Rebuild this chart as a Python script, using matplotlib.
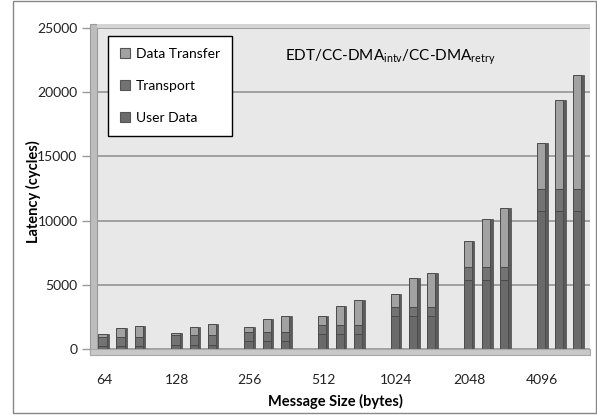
import matplotlib
matplotlib.use("Agg")
import matplotlib.pyplot as plt
from matplotlib.lines import Line2D
from matplotlib.patches import Rectangle
import numpy as np

plt.rcParams['font.family'] = ['Lato', 'DejaVu Sans']
plt.rcParams['mathtext.fontset'] = 'custom'
plt.rcParams['mathtext.rm'] = 'Lato'
plt.rcParams['mathtext.it'] = 'Lato:italic'
plt.rcParams['mathtext.bf'] = 'Lato:bold'

# ---- data ----
sizes = ["64", "128", "256", "512", "1024", "2048", "4096"]
variants = ["EDT", "CC-DMA intv", "CC-DMA retry"]
user_data = [200, 350, 600, 1150, 2550, 5350, 10750]
transport = [750, 750, 700, 700, 750, 1050, 1700]
transfer_edt = [200, 150, 400, 700, 950, 2050, 3600]
transfer_intv = [650, 650, 1000, 1500, 2250, 3750, 6950]
transfer_retry = [850, 850, 1250, 1950, 2650, 4600, 8900]
yticks = [0, 5000, 10000, 15000, 20000, 25000]

W, H = 597, 415
def fx(px): return px / W
def fy(py): return 1 - py / H

fig = plt.figure(figsize=(W / 100, H / 100), dpi=100)
fig.patch.set_facecolor('white')
ax = fig.add_axes([fx(97), fy(349), fx(590) - fx(97), fy(28) - fy(349)])
ax.set_facecolor('#e8e8e8')

c_ud, c_tr, c_dt = '#6a6a6a', '#737373', '#a2a2a2'
edge = '#4a4a4a'
off = 0.247
bw = 0.115
side = 0.035
x = np.arange(len(sizes))
transfers = [transfer_edt, transfer_intv, transfer_retry]
for i, dt in enumerate(transfers):
    pos = x + (i - 1) * off - side / 2
    ud = np.array(user_data); tr = np.array(transport); d = np.array(dt)
    for bottom, h, col in [(0, ud, c_ud), (ud, tr, c_tr), (ud + tr, d, c_dt)]:
        ax.bar(pos, h, bw, bottom=bottom, color=col, edgecolor=edge, linewidth=0.7, zorder=3)
    # darker side face for a 3D look
    tot = ud + tr + d
    ax.bar(pos + bw / 2 + side / 2, tot, side, color='#5c5c5c', edgecolor=edge,
           linewidth=0.5, zorder=3)

ax.set_xlim(-0.342, 6.41)
ax.set_ylim(0, 25000)
ax.set_yticks(yticks)
ax.set_yticklabels([str(v) for v in yticks], fontsize=10, color='#222222')
ax.yaxis.grid(True, color='#a0a0a0', linewidth=1.4, zorder=0)
ax.set_axisbelow(True)
ax.tick_params(axis='y', length=11, width=1, color='#999999', pad=3)
ax.set_xticks(x - off)
ax.set_xticklabels(sizes, fontsize=10, color='#222222')
ax.tick_params(axis='x', length=0, pad=18)
for s in ax.spines.values():
    s.set_visible(False)

# 3D walls
fig.patches.append(Rectangle((fx(90), fy(355)), fx(97) - fx(90), fy(24) - fy(355),
                             transform=fig.transFigure, facecolor='#bdbdbd',
                             edgecolor='#9a9a9a', linewidth=0.8, zorder=1))
fig.patches.append(Rectangle((fx(90), fy(355)), fx(590) - fx(90), fy(349) - fy(355),
                             transform=fig.transFigure, facecolor='#c8c8c8',
                             edgecolor='#a8a8a8', linewidth=0.8, zorder=1))
fig.patches.append(Rectangle((fx(97), fy(28)), fx(590) - fx(97), fy(24) - fy(28),
                             transform=fig.transFigure, facecolor='#d4d4d4',
                             edgecolor='none', zorder=1))
# outer border
fig.patches.append(Rectangle((fx(13), fy(413)), fx(596) - fx(13), fy(1) - fy(413),
                             transform=fig.transFigure, facecolor='none',
                             edgecolor='#888888', linewidth=1.0, zorder=2))

fig.text(fx(33), fy(192), 'Latency (cycles)', rotation=90, ha='center', va='center',
         fontsize=10.5, fontweight='bold')
fig.text(fx(335), fy(401), 'Message Size (bytes)', ha='center', va='center',
         fontsize=10.5, fontweight='bold')

fig.text(fx(390), fy(61), r'EDT/CC-DMA$_{\mathrm{intv}}$/CC-DMA$_{\mathrm{retry}}$',
         ha='center', va='baseline', fontsize=11)

handles = [Line2D([], [], marker='s', linestyle='none', markersize=6.5,
                  markerfacecolor=c, markeredgecolor='#555555', markeredgewidth=0.8)
           for c in (c_dt, c_tr, c_ud)]
leg = fig.legend(handles, ['Data Transfer', 'Transport', 'User Data'],
                 loc='upper left', bbox_to_anchor=(fx(108), fy(36)),
                 bbox_transform=fig.transFigure, borderaxespad=0, fontsize=10,
                 frameon=True, fancybox=False, edgecolor='black', framealpha=1,
                 labelspacing=1.45, handlelength=0.7, handletextpad=0.45,
                 borderpad=0.85)
leg.get_frame().set_linewidth(1.0)

fig.savefig('out.png', dpi=100)
